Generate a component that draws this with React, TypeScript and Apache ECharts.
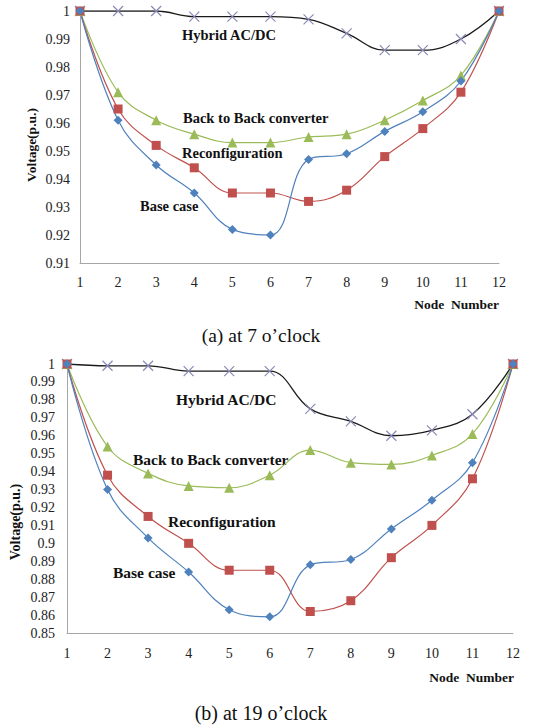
import React, { useEffect, useRef } from "react";
import * as echarts from "echarts";

const nodes = ["1", "2", "3", "4", "5", "6", "7", "8", "9", "10", "11", "12"];

// (a) at 7 o'clock
const hybridA = [1, 1, 1, 0.998, 0.998, 0.998, 0.997, 0.992, 0.986, 0.986, 0.99, 1];
const b2bA = [1, 0.971, 0.961, 0.956, 0.953, 0.953, 0.955, 0.956, 0.961, 0.968, 0.977, 1];
const reconfA = [1, 0.965, 0.952, 0.944, 0.935, 0.935, 0.932, 0.936, 0.948, 0.958, 0.971, 1];
const baseA = [1, 0.961, 0.945, 0.935, 0.922, 0.92, 0.947, 0.949, 0.957, 0.964, 0.975, 1];

// (b) at 19 o'clock
const hybridB = [1, 0.999, 0.999, 0.996, 0.996, 0.996, 0.975, 0.968, 0.96, 0.963, 0.972, 1];
const b2bB = [1, 0.954, 0.939, 0.932, 0.931, 0.938, 0.952, 0.945, 0.944, 0.949, 0.961, 1];
const reconfB = [1, 0.938, 0.915, 0.9, 0.885, 0.885, 0.862, 0.868, 0.892, 0.91, 0.936, 1];
const baseB = [1, 0.93, 0.903, 0.884, 0.863, 0.859, 0.888, 0.891, 0.908, 0.924, 0.945, 1];

const seriesNames = ["Hybrid AC/DC", "Back to Back converter", "Reconfiguration", "Base case"];
const captions = ["(a) at 7 o\u2019clock", "(b) at 19 o\u2019clock"];

const SERIF = "Liberation Serif";
const COLORS = { hybrid: "#1a1a1a", hybridMark: "#8a8ab8", b2b: "#9bbb59", reconf: "#c0504d", base: "#4f81bd" };
const CROSS = "path://M0,0L10,10M10,0L0,10";

function makeSeries(idx: number, data: number[][]) {
  const [h, b, r, s] = data;
  const common = { type: "line", xAxisIndex: idx, yAxisIndex: idx, smooth: 0.4, z: 2 };
  return [
    {
      ...common,
      name: seriesNames[0] + idx,
      data: h,
      symbol: CROSS,
      symbolSize: 10,
      lineStyle: { color: COLORS.hybrid, width: 1.3 },
      itemStyle: { color: "none", borderColor: COLORS.hybridMark, borderWidth: 1.2 },
    },
    {
      ...common,
      name: seriesNames[1] + idx,
      data: b,
      symbol: "triangle",
      symbolSize: 10,
      lineStyle: { color: COLORS.b2b, width: 1.2 },
      itemStyle: { color: COLORS.b2b },
    },
    {
      ...common,
      name: seriesNames[2] + idx,
      data: r,
      symbol: "rect",
      symbolSize: 9,
      lineStyle: { color: COLORS.reconf, width: 1.2 },
      itemStyle: { color: COLORS.reconf },
    },
    {
      ...common,
      name: seriesNames[3] + idx,
      data: s,
      symbol: "diamond",
      symbolSize: 9,
      lineStyle: { color: COLORS.base, width: 1.2 },
      itemStyle: { color: COLORS.base },
    },
  ];
}

const fmt = (v: number) => String(+v.toFixed(2));

export default function App() {
  const ref = useRef<HTMLDivElement>(null);
  useEffect(() => {
    if (!ref.current) return;
    const chart = echarts.init(ref.current, null, { renderer: "svg" });
    const axisLineStyle = { color: "#a6a6a6", width: 1 };
    const xAxisCommon = {
      type: "category",
      data: nodes,
      boundaryGap: false,
      axisLine: { lineStyle: axisLineStyle },
      axisTick: { show: false },
      splitLine: { show: false },
      axisLabel: { color: "#222", fontFamily: SERIF, fontSize: 14, margin: 12 },
    };
    const yAxisCommon = {
      type: "value",
      interval: 0.01,
      axisLine: { show: true, lineStyle: axisLineStyle },
      axisTick: { show: false },
      splitLine: { show: false },
      axisLabel: { color: "#222", fontFamily: SERIF, fontSize: 14, formatter: fmt },
    };
    const bold = (size: number) => ({ fontFamily: SERIF, fontWeight: "bold", fontSize: size });
    const label = (text: string, x: number, y: number, size: number) => ({
      type: "text",
      x,
      y,
      style: { text, fill: "#111", ...bold(size), textVerticalAlign: "middle" },
    });
    chart.setOption({
      animation: false,
      grid: [
        { left: 80, right: 49, top: 11, height: 252 },
        { left: 67, right: 35, top: 364, height: 269 },
      ],
      xAxis: [
        { ...xAxisCommon, gridIndex: 0 },
        { ...xAxisCommon, gridIndex: 1, axisLabel: { ...xAxisCommon.axisLabel, margin: 13 } },
      ],
      yAxis: [
        { ...yAxisCommon, gridIndex: 0, min: 0.91, max: 1, axisLabel: { ...yAxisCommon.axisLabel, margin: 10 } },
        { ...yAxisCommon, gridIndex: 1, min: 0.85, max: 1, axisLabel: { ...yAxisCommon.axisLabel, margin: 12 } },
      ],
      series: [
        ...makeSeries(0, [hybridA, b2bA, reconfA, baseA]),
        ...makeSeries(1, [hybridB, b2bB, reconfB, baseB]),
      ],
      graphic: [
        label(seriesNames[0], 182, 35, 14.5),
        label(seriesNames[1], 183, 118, 14.5),
        label(seriesNames[2], 182, 153, 14.5),
        label(seriesNames[3], 140, 206, 14.5),
        label(seriesNames[0], 176, 399, 15.5),
        label(seriesNames[1], 133, 459, 15.5),
        label(seriesNames[2], 168, 521, 15.5),
        label(seriesNames[3], 113, 572, 15.5),
        {
          type: "text", x: 499, y: 304,
          style: { text: "Node  Number", fill: "#111", ...bold(13.5), textAlign: "right", textVerticalAlign: "middle" },
        },
        {
          type: "text", x: 514, y: 677,
          style: { text: "Node  Number", fill: "#111", ...bold(13.5), textAlign: "right", textVerticalAlign: "middle" },
        },
        {
          type: "text", x: 31, y: 145, rotation: Math.PI / 2,
          style: { text: "Voltage(p.u.)", fill: "#111", ...bold(13.5), textAlign: "center", textVerticalAlign: "middle" },
        },
        {
          type: "text", x: 15, y: 522, rotation: Math.PI / 2,
          style: { text: "Voltage(p.u.)", fill: "#111", ...bold(14), textAlign: "center", textVerticalAlign: "middle" },
        },
        {
          type: "text", x: 261, y: 335,
          style: { text: captions[0], fill: "#111", fontFamily: SERIF, fontSize: 19.5, textAlign: "center", textVerticalAlign: "middle" },
        },
        {
          type: "text", x: 261, y: 713,
          style: { text: captions[1], fill: "#111", fontFamily: SERIF, fontSize: 20, textAlign: "center", textVerticalAlign: "middle" },
        },
      ],
    });
    return () => chart.dispose();
  }, []);
  return <div ref={ref} style={{ position: "absolute", left: 0, top: 0, width: 548, height: 726, background: "#fff" }} />;
}
